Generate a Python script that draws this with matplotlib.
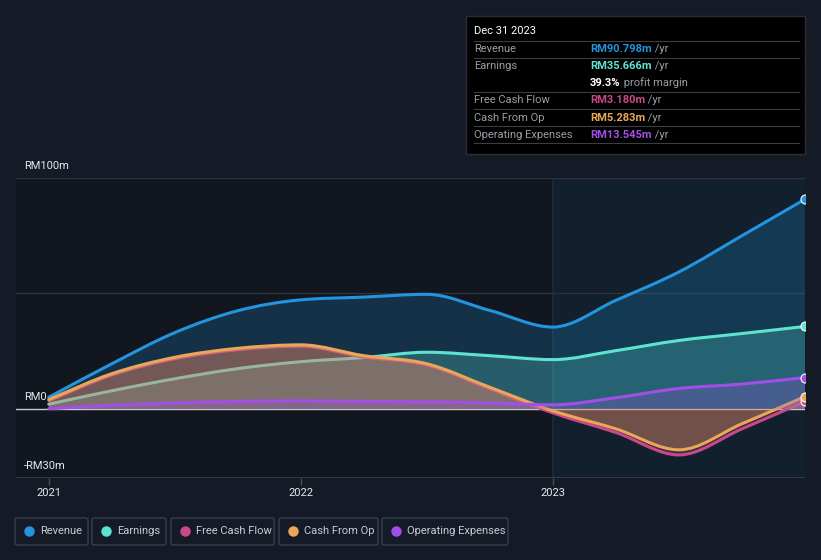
"""Revenue / earnings / cash-flow history chart, dark theme."""

import matplotlib

matplotlib.use("Agg")
import matplotlib.pyplot as plt
import numpy as np
from matplotlib.patches import FancyBboxPatch, PathPatch, Rectangle
from matplotlib.path import Path

plt.rcParams["font.family"] = ["Roboto", "DejaVu Sans"]

BG = "#151b26"
PLOT_BG = "#12161e"

# quarterly points, decimal years
QUARTERS = [2021.0, 2021.25, 2021.5, 2021.75, 2022.0, 2022.25, 2022.5,
            2022.75, 2023.0, 2023.25, 2023.5, 2023.75, 2024.0]
REVENUE = [5.0, 19.5, 33.0, 42.5, 47.2, 48.4, 49.6, 42.6, 35.4, 47.0, 59.3, 75.0, 90.798]
EARNINGS = [2.0, 7.8, 13.0, 17.4, 20.4, 22.2, 24.5, 23.0, 21.3, 25.2, 29.6, 32.6, 35.666]
FCF = [3.5, 14.6, 21.7, 25.6, 27.1, 22.4, 18.9, 8.6, -1.8, -10.3, -20.0, -8.7, 3.180]
CFO = [4.0, 15.2, 22.3, 26.2, 27.7, 23.0, 19.5, 9.3, -0.9, -8.7, -17.8, -6.5, 5.283]
OPEX = [0.0, 1.5, 2.5, 3.2, 3.5, 3.2, 3.0, 2.5, 1.7, 4.8, 8.8, 10.7, 13.545]

SERIES = [
    ("Revenue", REVENUE, "#2394df", 0.22),
    ("Earnings", EARNINGS, "#5fe3d1", 0.25),
    ("Free Cash Flow", FCF, "#c9488a", 0.25),
    ("Cash From Op", CFO, "#e8a857", 0.30),
    ("Operating Expenses", OPEX, "#a24ee8", 0.25),
]

TIP_ROWS = [
    ("Revenue", "RM90.798m", "#2394df"),
    ("Earnings", "RM35.666m", "#5fe3d1"),
    (None, "39.3%", "#ffffff"),
    ("Free Cash Flow", "RM3.180m", "#c9488a"),
    ("Cash From Op", "RM5.283m", "#e8a857"),
    ("Operating Expenses", "RM13.545m", "#a24ee8"),
]


def monotone_path(xs, ys, close_to_zero=False):
    """Bezier path through the points, monotone-x style (like d3)."""
    xs = np.asarray(xs, float)
    ys = np.asarray(ys, float)
    n = len(xs)
    h = np.diff(xs)
    s = np.diff(ys) / h
    t = np.zeros(n)
    t[0] = s[0]
    t[-1] = s[-1]
    for i in range(1, n - 1):
        if s[i - 1] * s[i] <= 0:
            t[i] = 0.0
        else:
            p = (s[i - 1] * h[i] + s[i] * h[i - 1]) / (h[i - 1] + h[i])
            t[i] = np.sign(s[i]) * min(abs(s[i - 1]), abs(s[i]), 0.5 * abs(p)) * 2
    verts = [(xs[0], ys[0])]
    codes = [Path.MOVETO]
    for i in range(n - 1):
        dx = h[i] / 3
        verts += [(xs[i] + dx, ys[i] + dx * t[i]),
                  (xs[i + 1] - dx, ys[i + 1] - dx * t[i + 1]),
                  (xs[i + 1], ys[i + 1])]
        codes += [Path.CURVE4] * 3
    if close_to_zero:
        verts += [(xs[-1], 0), (xs[0], 0), (xs[0], ys[0])]
        codes += [Path.LINETO, Path.LINETO, Path.CLOSEPOLY]
    return Path(verts, codes)


fig = plt.figure(figsize=(8.21, 5.60), dpi=100, facecolor=BG)
ax = fig.add_axes([16 / 821, 1 - 478 / 560, 789 / 821, 300 / 560])
ax.set_facecolor(PLOT_BG)
ax.set_xlim(2020.87, 2024.0)
ax.set_ylim(-30, 100)

# last-year highlight
ax.axvspan(2023.0, 2024.0, color="#11202c", zorder=0, lw=0)
ax.axvline(2023.0, color="#1c2c38", lw=1.2, zorder=0.5)

for y in (100, 50):
    ax.axhline(y, color="#2d333d", lw=1, zorder=1)
ax.axhline(-30, color="#3a404a", lw=1.2, zorder=1)

for i, (name, vals, color, a) in enumerate(SERIES):
    z = 2 + i
    ax.add_patch(PathPatch(monotone_path(QUARTERS, vals, True), facecolor=color,
                           alpha=a, lw=0, zorder=z))
    ax.add_patch(PathPatch(monotone_path(QUARTERS, vals), facecolor="none",
                           edgecolor=color, lw=2.2, zorder=z + 0.5,
                           capstyle="round"))
    ax.plot(QUARTERS[-1], vals[-1], "o", ms=6.5, color=color, mec="white",
            mew=0.8, zorder=20, clip_on=True)

ax.axhline(0, color="#c9ccd1", lw=1, zorder=1.5)

for s in ax.spines.values():
    s.set_visible(False)
ax.set_yticks([])
ax.set_xticks([2021, 2022, 2023])
ax.set_xticklabels(["2021", "2022", "2023"])
ax.tick_params(axis="x", colors="#4a505a", length=5, width=1, pad=2,
               labelcolor="#e6e8eb", labelsize=8)

for val, lab in ((100, "RM100m"), (0, "RM0"), (-30, "-RM30m")):
    ax.annotate(lab, (0, val), xycoords=("axes fraction", "data"),
                xytext=(5.5, 5), textcoords="offset points", color="#e6e8eb",
                fontsize=8, va="bottom", ha="left")

# tooltip box
fig.patches.append(Rectangle((466 / 821, 1 - 154 / 560), 339 / 821, 138 / 560,
                             transform=fig.transFigure, facecolor="#000000",
                             edgecolor="#2a2e35", lw=1, zorder=30))
fig.text(474 / 821, 1 - 31 / 560, "Dec 31 2023", color="#ffffff", fontsize=8,
         va="center", zorder=31)
row_y = [49, 66, 83, 100, 118, 135]
sep_y = [41, 58, 92, 109, 126, 143]
for y in sep_y:
    fig.add_artist(plt.Line2D([474 / 821, 799 / 821], [1 - y / 560] * 2,
                              color="#3a3d42", lw=0.8, zorder=31))
for (lab, val, col), y in zip(TIP_ROWS, row_y):
    yy = 1 - y / 560
    if lab:
        fig.text(474 / 821, yy, lab, color="#9a9ea5", fontsize=8, va="center",
                 zorder=32)
    t = fig.text(590 / 821, yy, val, color=col, fontsize=8, va="center",
                 fontweight="bold", zorder=32)
    suffix = " profit margin" if lab is None else " /yr"
    fig.canvas.draw()
    bb = t.get_window_extent()
    fig.text(bb.x1 / 821, yy, suffix, color="#9a9ea5", fontsize=8,
             va="center", zorder=32)

# legend
LEG_BOX = [(15, 88), (92, 166), (171, 274), (279, 378), (382, 508)]
for (name, _, color, _), (x0, x1) in zip(SERIES, LEG_BOX):
    fig.patches.append(FancyBboxPatch((x0 / 821, 1 - 545 / 560),
                                      (x1 - x0) / 821, 27 / 560,
                                      boxstyle="round,pad=0,rounding_size=0.003",
                                      transform=fig.transFigure,
                                      facecolor="none", edgecolor="#3a404a",
                                      lw=1))
    fig.add_artist(plt.Line2D([(x0 + 14) / 821], [1 - 531 / 560], marker="o",
                              ms=6.5, color=color, lw=0))
    fig.text((x0 + 25) / 821, 1 - 531 / 560, name, color="#c8ccd2",
             fontsize=8, va="center")

fig.savefig("out.png", dpi=100, facecolor=BG)
